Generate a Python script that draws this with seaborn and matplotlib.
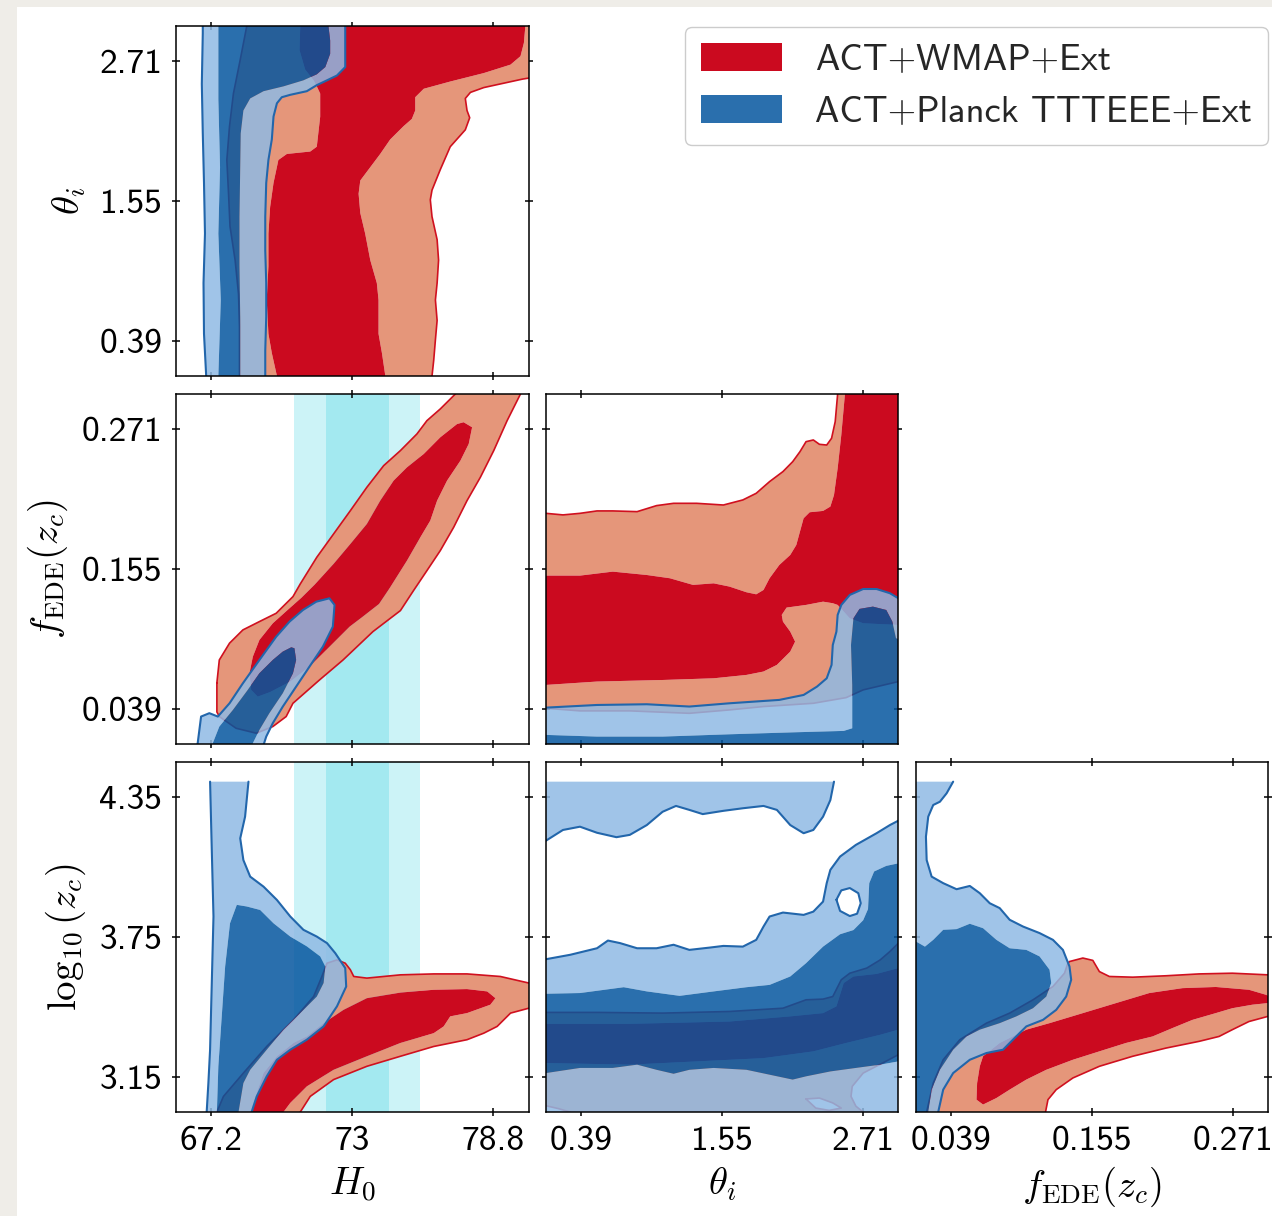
import numpy as np
import matplotlib
matplotlib.use("Agg")
import matplotlib.pyplot as plt
from matplotlib.path import Path
from matplotlib.patches import PathPatch, Patch, Rectangle
import seaborn as sns

# ---------------------------------------------------------------------------
# Parameters, ranges and ticks
# ---------------------------------------------------------------------------
PARAM_LABELS = [r"$H_0$", r"$\theta_i$", r"$f_{\rm EDE}(z_c)$", r"$\log_{10}(z_c)$"]
PARAM_LIMITS = [(65.75, 80.25), (0.10, 3.00), (0.010, 0.300), (3.00, 4.50)]
PARAM_TICKS = [[67.2, 73.0, 78.8], [0.39, 1.55, 2.71], [0.039, 0.155, 0.271], [3.15, 3.75, 4.35]]
PARAM_TICKLABELS = [["67.2", "73", "78.8"], ["0.39", "1.55", "2.71"],
                    ["0.039", "0.155", "0.271"], ["3.15", "3.75", "4.35"]]

SERIES_LABELS = ["ACT+WMAP+Ext", "ACT+Planck TTTEEE+Ext"]

# Local H0 measurement shown as 1 and 2 sigma bands
H0_LOCAL = 73.2
H0_LOCAL_ERR = 1.3

# ---------------------------------------------------------------------------
# 68% / 95% credible-region outlines (x, y) for each parameter pair
# ---------------------------------------------------------------------------
# H0 - theta_i
WMAP_95_H0_TH = [(68.66, 3.10), (80.60, 3.10), (80.60, 2.58), (80.00, 2.56), (79.09, 2.52), (78.41, 2.49),
                 (77.86, 2.45), (77.65, 2.40), (77.72, 2.30), (77.83, 2.24), (77.65, 2.14), (77.03, 2.00),
                 (76.62, 1.81), (76.28, 1.64), (76.21, 1.56), (76.28, 1.42), (76.49, 1.23), (76.55, 1.06),
                 (76.49, 0.87), (76.42, 0.73), (76.49, 0.56), (76.42, 0.40), (76.35, 0.23), (76.28, 0.10),
                 (76.25, 0.00), (68.36, 0.00), (68.36, 0.10), (68.36, 0.51), (68.32, 0.78), (68.18, 1.06),
                 (67.97, 1.34), (67.91, 1.61), (67.84, 1.89), (67.95, 2.17), (68.11, 2.44), (68.39, 2.72),
                 (68.66, 3.00)]
WMAP_68_H0_TH = [(70.86, 3.10), (80.15, 3.10), (80.12, 3.00), (80.06, 2.86), (79.92, 2.75), (79.51, 2.68),
                 (78.41, 2.61), (77.03, 2.54), (75.94, 2.48), (75.59, 2.41), (75.59, 2.30), (75.45, 2.23),
                 (75.11, 2.17), (74.56, 2.06), (74.15, 1.94), (73.74, 1.83), (73.33, 1.72), (73.26, 1.61),
                 (73.33, 1.45), (73.53, 1.28), (73.74, 1.06), (74.01, 0.87), (74.08, 0.73), (74.08, 0.45),
                 (74.22, 0.29), (74.36, 0.10), (74.38, 0.00), (69.92, 0.00), (69.90, 0.10), (69.69, 0.29),
                 (69.55, 0.45), (69.48, 0.73), (69.55, 1.01), (69.55, 1.28), (69.62, 1.50), (69.76, 1.70),
                 (69.96, 1.89), (70.31, 1.94), (71.27, 1.96), (71.54, 2.00), (71.68, 2.25), (71.68, 2.44),
                 (71.54, 2.50), (71.41, 2.55), (71.06, 2.64), (70.83, 2.80), (70.86, 3.00)]
PLANCK_95_H0_TH = [(66.85, 3.10), (72.71, 3.10), (72.71, 3.00), (72.71, 2.66), (72.37, 2.59), (71.96, 2.55),
                   (71.54, 2.51), (71.13, 2.46), (70.45, 2.43), (70.10, 2.41), (69.90, 2.36), (69.76, 2.25),
                   (69.69, 2.06), (69.55, 1.89), (69.46, 1.70), (69.42, 1.42), (69.42, 1.14), (69.46, 0.87),
                   (69.46, 0.59), (69.42, 0.31), (69.42, 0.10), (69.42, 0.00), (66.99, 0.00), (66.99, 0.10),
                   (66.90, 0.45), (66.88, 0.87), (66.94, 1.28), (66.90, 1.70), (66.85, 2.11), (66.81, 2.52),
                   (66.85, 2.94), (66.85, 3.00)]
PLANCK_68_H0_TH = [(67.49, 3.05), (72.02, 3.05), (72.02, 3.00), (72.09, 2.88), (72.09, 2.77), (71.89, 2.66),
                   (71.54, 2.60), (70.99, 2.55), (70.17, 2.50), (69.35, 2.46), (68.80, 2.40), (68.52, 2.30),
                   (68.41, 2.11), (68.39, 1.83), (68.36, 1.42), (68.36, 1.01), (68.39, 0.59), (68.39, 0.10),
                   (68.39, 0.05), (67.49, 0.05), (67.49, 0.10), (67.59, 0.73), (67.49, 1.28), (67.56, 1.83),
                   (67.49, 2.39), (67.49, 3.00)]

# H0 - f_EDE
WMAP_95_H0_F = [(67.43, 0.0606), (67.53, 0.0796), (67.95, 0.0935), (68.50, 0.1045), (69.18, 0.1114),
                (69.87, 0.1183), (70.56, 0.1321), (70.86, 0.1426), (71.54, 0.1647), (72.23, 0.1840),
                (72.92, 0.2033), (73.60, 0.2227), (74.29, 0.2406), (74.98, 0.2531), (75.66, 0.2669),
                (76.07, 0.2779), (76.62, 0.2876), (77.24, 0.3000), (77.35, 0.3100), (79.98, 0.3100),
                (79.92, 0.3000), (79.37, 0.2779), (78.82, 0.2531), (78.27, 0.2310), (77.72, 0.2116),
                (77.17, 0.1895), (76.62, 0.1702), (76.07, 0.1536), (75.52, 0.1371), (74.98, 0.1205),
                (73.85, 0.1031), (72.62, 0.0796), (71.65, 0.0630), (70.56, 0.0437), (70.28, 0.0327),
                (69.73, 0.0244), (69.05, 0.0189), (68.22, 0.0230), (67.53, 0.0327), (67.43, 0.0365),
                (67.43, 0.0606)]
WMAP_68_H0_F = [(77.58, 0.2766), (77.93, 0.2724), (77.79, 0.2586), (77.45, 0.2448), (76.90, 0.2282),
                (76.49, 0.2116), (76.21, 0.1951), (75.80, 0.1812), (75.25, 0.1619), (74.56, 0.1398),
                (74.10, 0.1260), (73.40, 0.1150), (72.89, 0.1072), (71.93, 0.0879), (71.24, 0.0741),
                (70.45, 0.0617), (69.62, 0.0530), (69.11, 0.0492), (68.84, 0.0548), (68.77, 0.0686),
                (68.91, 0.0824), (69.18, 0.0962), (69.73, 0.1100), (70.42, 0.1225), (70.90, 0.1310),
                (71.45, 0.1420), (72.23, 0.1592), (72.92, 0.1757), (73.60, 0.1923), (74.15, 0.2116),
                (74.70, 0.2282), (75.25, 0.2392), (75.94, 0.2503), (76.62, 0.2641), (77.31, 0.2751)]
PLANCK_95_H0_F = [(66.53, 0.0000), (66.64, 0.0106), (66.78, 0.0327), (67.12, 0.0355), (67.47, 0.0327),
                  (67.95, 0.0437), (68.50, 0.0603), (69.18, 0.0796), (69.87, 0.0989), (70.42, 0.1114),
                  (70.97, 0.1210), (71.52, 0.1279), (72.06, 0.1307), (72.27, 0.1252), (72.20, 0.1072),
                  (71.79, 0.0906), (71.24, 0.0741), (70.69, 0.0575), (70.14, 0.0409), (69.73, 0.0272),
                  (69.46, 0.0161), (69.35, 0.0092), (69.30, 0.0000)]
PLANCK_68_H0_F = [(67.20, 0.0040), (67.26, 0.0106), (67.53, 0.0244), (68.09, 0.0382), (68.70, 0.0548),
                  (69.18, 0.0686), (69.73, 0.0796), (70.14, 0.0865), (70.49, 0.0901), (70.62, 0.0893),
                  (70.69, 0.0796), (70.56, 0.0686), (70.14, 0.0520), (69.59, 0.0355), (69.18, 0.0216),
                  (68.91, 0.0106), (68.88, 0.0040)]

# theta_i - f_EDE
WMAP_95_TH_F = [(0.00, 0.2011), (0.10, 0.2011), (0.24, 0.1998), (0.38, 0.2011), (0.52, 0.2031), (0.65, 0.2031),
                (0.85, 0.2025), (1.01, 0.2075), (1.15, 0.2094), (1.34, 0.2094), (1.56, 0.2080), (1.72, 0.2122),
                (1.83, 0.2177), (1.94, 0.2274), (2.05, 0.2357), (2.13, 0.2439), (2.19, 0.2522), (2.24, 0.2605),
                (2.30, 0.2619), (2.35, 0.2583), (2.41, 0.2577), (2.45, 0.2633), (2.48, 0.2771), (2.50, 0.3000),
                (2.51, 0.3100), (3.10, 0.3100), (3.10, 0.0590), (3.00, 0.0617), (2.71, 0.0548), (2.57, 0.0484),
                (2.30, 0.0437), (1.89, 0.0410), (1.61, 0.0382), (1.28, 0.0354), (0.79, 0.0374), (0.38, 0.0374),
                (0.10, 0.0396), (0.00, 0.0396)]
WMAP_68_TH_F = [(0.00, 0.1495), (0.10, 0.1495), (0.38, 0.1495), (0.65, 0.1528), (0.93, 0.1500), (1.12, 0.1473),
                (1.31, 0.1418), (1.48, 0.1431), (1.61, 0.1404), (1.75, 0.1357), (1.83, 0.1340), (1.89, 0.1376),
                (1.94, 0.1473), (2.02, 0.1583), (2.11, 0.1666), (2.16, 0.1749), (2.19, 0.1860), (2.22, 0.1970),
                (2.27, 0.2020), (2.38, 0.2031), (2.44, 0.2067), (2.47, 0.2163), (2.50, 0.2384), (2.53, 0.2660),
                (2.56, 0.3000), (2.57, 0.3100), (3.10, 0.3100), (3.10, 0.1086), (3.00, 0.1086), (2.71, 0.1100),
                (2.60, 0.1141), (2.50, 0.1252), (2.46, 0.1266), (2.38, 0.1279), (2.24, 0.1252), (2.08, 0.1230),
                (2.04, 0.1169), (2.05, 0.1114), (2.11, 0.1031), (2.15, 0.0948), (2.11, 0.0865), (2.00, 0.0755),
                (1.89, 0.0700), (1.75, 0.0672), (1.48, 0.0644), (1.06, 0.0630), (0.52, 0.0617), (0.10, 0.0589),
                (0.00, 0.0589)]
PLANCK_95_TH_F = [(0.00, 0.0401), (0.10, 0.0401), (0.52, 0.0423), (0.93, 0.0429), (1.28, 0.0410), (1.61, 0.0437),
                  (2.02, 0.0465), (2.22, 0.0506), (2.33, 0.0575), (2.41, 0.0644), (2.45, 0.0755), (2.46, 0.0920),
                  (2.49, 0.1031), (2.50, 0.1169), (2.53, 0.1252), (2.60, 0.1335), (2.71, 0.1384), (2.82, 0.1384),
                  (2.93, 0.1349), (3.00, 0.1307), (3.10, 0.1250), (3.10, 0.0000), (0.00, 0.0000)]
PLANCK_68_TH_F = [(0.05, 0.0175), (0.10, 0.0175), (0.52, 0.0161), (1.06, 0.0161), (1.61, 0.0180), (2.16, 0.0197),
                  (2.55, 0.0208), (2.62, 0.0230), (2.62, 0.0589), (2.61, 0.0920), (2.63, 0.1141), (2.68, 0.1219),
                  (2.79, 0.1238), (2.90, 0.1210), (2.95, 0.1114), (2.98, 0.0976), (3.05, 0.0950), (3.05, 0.0050),
                  (0.05, 0.0050)]

# H0 - log10(z_c)
WMAP_95_H0_Z = [(67.40, 2.900), (67.43, 3.000), (67.70, 3.067), (68.52, 3.167), (69.48, 3.281), (70.58, 3.395),
                (71.41, 3.495), (71.75, 3.581), (71.96, 3.638), (72.37, 3.652), (72.71, 3.638), (72.92, 3.610),
                (73.06, 3.581), (73.60, 3.574), (74.98, 3.588), (76.35, 3.592), (77.72, 3.592), (79.09, 3.581),
                (80.26, 3.553), (80.50, 3.550), (80.50, 3.440), (80.26, 3.445), (79.51, 3.424), (78.96, 3.367),
                (78.41, 3.338), (77.72, 3.310), (76.35, 3.281), (74.98, 3.239), (73.60, 3.196), (72.23, 3.139),
                (71.27, 3.067), (70.86, 3.000), (70.82, 2.900)]
WMAP_68_H0_Z = [(68.78, 2.950), (68.80, 3.000), (69.35, 3.167), (69.90, 3.239), (70.58, 3.296), (71.13, 3.324),
                (71.82, 3.381), (72.64, 3.438), (73.60, 3.488), (74.98, 3.512), (76.35, 3.524), (77.72, 3.527),
                (78.55, 3.517), (78.89, 3.488), (78.68, 3.460), (77.72, 3.424), (77.03, 3.410), (76.76, 3.367),
                (76.35, 3.338), (74.98, 3.296), (73.60, 3.239), (72.23, 3.181), (71.13, 3.110), (70.45, 3.039),
                (70.17, 3.000), (70.15, 2.950)]
PLANCK_95_H0_Z = [(67.15, 4.416), (67.22, 4.123), (67.29, 3.838), (67.22, 3.553), (67.15, 3.267), (67.08, 3.124),
                  (67.01, 3.000), (67.00, 2.900), (68.84, 2.900), (68.86, 3.000), (69.07, 3.067), (69.48, 3.153),
                  (69.90, 3.224), (70.45, 3.267), (71.13, 3.310), (71.82, 3.367), (72.37, 3.453), (72.75, 3.538),
                  (72.71, 3.617), (72.30, 3.681), (71.96, 3.724), (71.54, 3.752), (70.99, 3.781), (70.45, 3.838),
                  (69.90, 3.909), (69.35, 3.966), (68.80, 4.009), (68.52, 4.080), (68.39, 4.173), (68.59, 4.266),
                  (68.73, 4.416)]
PLANCK_68_H0_Z = [(68.25, 3.888), (67.97, 3.809), (67.77, 3.624), (67.63, 3.410), (67.49, 3.196), (67.43, 3.000),
                  (67.43, 2.950), (68.32, 2.950), (68.32, 3.000), (68.52, 3.124), (68.80, 3.181), (69.48, 3.267),
                  (70.17, 3.353), (70.86, 3.424), (71.54, 3.495), (71.82, 3.553), (71.89, 3.624), (71.68, 3.667),
                  (71.13, 3.710), (70.45, 3.752), (69.76, 3.809), (69.21, 3.866), (68.66, 3.881)]

# theta_i - log10(z_c)
WMAP_95_TH_Z = [(0.00, 3.427), (0.10, 3.427), (0.52, 3.427), (1.06, 3.424), (1.61, 3.431), (2.05, 3.445),
                (2.24, 3.481), (2.38, 3.484), (2.46, 3.495), (2.53, 3.567), (2.60, 3.595), (2.74, 3.617),
                (2.85, 3.652), (2.93, 3.688), (3.00, 3.724), (3.10, 3.730), (3.10, 3.250), (3.00, 3.246),
                (2.87, 3.210), (2.71, 3.167), (2.62, 3.110), (2.61, 3.067), (2.65, 3.025), (2.71, 3.000),
                (2.72, 2.900), (0.32, 2.900), (0.30, 3.000), (0.20, 3.015), (0.10, 3.027), (0.00, 3.030)]
WMAP_95_TH_Z_GAP = [(2.24, 3.056), (2.35, 3.060), (2.46, 3.039), (2.53, 3.017), (2.43, 3.007), (2.32, 3.017),
                    (2.24, 3.056)]
WMAP_68_TH_Z = [(0.00, 3.378), (0.10, 3.378), (0.79, 3.378), (1.61, 3.388), (2.11, 3.410), (2.38, 3.424),
                (2.49, 3.453), (2.55, 3.553), (2.63, 3.581), (2.82, 3.592), (3.00, 3.617), (3.10, 3.620),
                (3.10, 3.350), (3.00, 3.353), (2.85, 3.331), (2.57, 3.296), (2.30, 3.260), (1.89, 3.231),
                (1.34, 3.217), (0.79, 3.203), (0.10, 3.210), (0.00, 3.210)]
PLANCK_95_TH_Z_HIGH = [(2.47, 4.416), (2.44, 4.337), (2.38, 4.266), (2.30, 4.209), (2.22, 4.195), (2.11, 4.230),
                       (2.00, 4.295), (1.89, 4.312), (1.72, 4.302), (1.56, 4.291), (1.39, 4.277), (1.28, 4.295),
                       (1.17, 4.312), (1.06, 4.287), (0.93, 4.230), (0.79, 4.188), (0.68, 4.178), (0.52, 4.197),
                       (0.38, 4.223), (0.24, 4.209), (0.10, 4.163), (0.00, 4.150), (0.00, 4.416)]
PLANCK_95_TH_Z = [(0.00, 2.900), (0.00, 3.655), (0.10, 3.655), (0.30, 3.674), (0.52, 3.702), (0.61, 3.735),
                  (0.71, 3.724), (0.85, 3.702), (1.01, 3.702), (1.15, 3.717), (1.28, 3.695), (1.45, 3.705),
                  (1.56, 3.712), (1.72, 3.709), (1.83, 3.738), (1.89, 3.795), (1.94, 3.838), (2.05, 3.855),
                  (2.22, 3.845), (2.30, 3.859), (2.38, 3.902), (2.41, 3.981), (2.44, 4.038), (2.52, 4.095),
                  (2.65, 4.145), (2.82, 4.195), (2.93, 4.230), (3.00, 4.249), (3.15, 4.260), (3.15, 2.900)]
PLANCK_95_TH_Z_GAP = [(2.49, 3.910), (2.53, 3.950), (2.60, 3.960), (2.67, 3.938), (2.69, 3.895), (2.66, 3.850),
                      (2.60, 3.840), (2.52, 3.862), (2.49, 3.910)]
PLANCK_68_TH_Z = [(0.05, 3.507), (0.10, 3.507), (0.38, 3.510), (0.74, 3.535), (0.93, 3.517), (1.20, 3.498),
                  (1.48, 3.517), (1.75, 3.535), (1.94, 3.545), (2.11, 3.581), (2.24, 3.638), (2.38, 3.709),
                  (2.52, 3.762), (2.63, 3.780), (2.71, 3.822), (2.75, 3.870), (2.76, 3.981), (2.80, 4.031),
                  (2.90, 4.055), (3.00, 4.066), (3.10, 4.070), (3.10, 3.220), (3.00, 3.217), (2.85, 3.203),
                  (2.65, 3.189), (2.44, 3.174), (2.24, 3.153), (2.13, 3.139), (1.94, 3.160), (1.75, 3.181),
                  (1.48, 3.189), (1.28, 3.181), (1.15, 3.164), (1.01, 3.181), (0.85, 3.203), (0.65, 3.189),
                  (0.38, 3.189), (0.10, 3.167), (0.05, 3.167)]

# f_EDE - log10(z_c)
WMAP_95_F_Z = [(0.0180, 2.900), (0.0188, 3.000), (0.0242, 3.124), (0.0324, 3.224), (0.0461, 3.310),
               (0.0680, 3.381), (0.0871, 3.424), (0.1063, 3.481), (0.1227, 3.538), (0.1322, 3.595),
               (0.1350, 3.638), (0.1363, 3.645), (0.1473, 3.660), (0.1555, 3.650), (0.1609, 3.602),
               (0.1691, 3.581), (0.1883, 3.578), (0.2156, 3.584), (0.2430, 3.592), (0.2703, 3.595),
               (0.2996, 3.588), (0.3050, 3.588), (0.3050, 3.410), (0.2996, 3.410), (0.2840, 3.388),
               (0.2703, 3.353), (0.2594, 3.324), (0.2430, 3.303), (0.2156, 3.274), (0.1883, 3.239),
               (0.1609, 3.196), (0.1391, 3.146), (0.1254, 3.096), (0.1186, 3.053), (0.1166, 3.000),
               (0.1160, 2.900)]
WMAP_68_F_Z = [(0.0652, 3.239), (0.0789, 3.296), (0.1008, 3.353), (0.1199, 3.381), (0.1473, 3.424),
               (0.1746, 3.467), (0.2020, 3.510), (0.2293, 3.531), (0.2567, 3.536), (0.2840, 3.524),
               (0.2977, 3.503), (0.3050, 3.488), (0.3050, 3.467), (0.2996, 3.467), (0.2868, 3.460),
               (0.2703, 3.445), (0.2567, 3.424), (0.2375, 3.395), (0.2211, 3.360), (0.2047, 3.324),
               (0.1828, 3.296), (0.1609, 3.260), (0.1391, 3.224), (0.1172, 3.181), (0.1008, 3.139),
               (0.0871, 3.096), (0.0762, 3.060), (0.0652, 3.032), (0.0598, 3.053), (0.0603, 3.124),
               (0.0625, 3.196)]
PLANCK_95_F_Z = [(0.0406, 4.416), (0.0352, 4.366), (0.0297, 4.330), (0.0242, 4.316), (0.0201, 4.266),
                 (0.0182, 4.180), (0.0188, 4.080), (0.0229, 4.009), (0.0324, 3.981), (0.0434, 3.955),
                 (0.0543, 3.969), (0.0625, 3.938), (0.0707, 3.895), (0.0789, 3.874), (0.0871, 3.824),
                 (0.0981, 3.795), (0.1117, 3.767), (0.1227, 3.738), (0.1309, 3.695), (0.1363, 3.624),
                 (0.1377, 3.567), (0.1336, 3.495), (0.1254, 3.438), (0.1145, 3.395), (0.1008, 3.367),
                 (0.0898, 3.310), (0.0816, 3.267), (0.0680, 3.253), (0.0543, 3.224), (0.0406, 3.167),
                 (0.0324, 3.096), (0.0283, 3.000), (0.0280, 2.900), (0.0000, 2.900), (0.0000, 4.416)]
PLANCK_68_F_Z = [(0.0050, 2.950), (0.0050, 3.731), (0.0100, 3.731), (0.0174, 3.709), (0.0242, 3.738),
                 (0.0324, 3.781), (0.0434, 3.784), (0.0543, 3.807), (0.0652, 3.788), (0.0762, 3.738),
                 (0.0871, 3.702), (0.1008, 3.695), (0.1117, 3.667), (0.1199, 3.610), (0.1213, 3.553),
                 (0.1172, 3.495), (0.1063, 3.445), (0.0926, 3.410), (0.0789, 3.381), (0.0625, 3.353),
                 (0.0516, 3.324), (0.0406, 3.267), (0.0297, 3.181), (0.0229, 3.096), (0.0201, 3.000),
                 (0.0200, 2.950)]

# (row, col) -> regions; row/col index into the parameter list
PANELS = {
    (1, 0): dict(wmap=([WMAP_95_H0_TH], [], [WMAP_68_H0_TH]),
                 planck=([PLANCK_95_H0_TH], [], [PLANCK_68_H0_TH])),
    (2, 0): dict(wmap=([WMAP_95_H0_F], [], [WMAP_68_H0_F]),
                 planck=([PLANCK_95_H0_F], [], [PLANCK_68_H0_F])),
    (2, 1): dict(wmap=([WMAP_95_TH_F], [], [WMAP_68_TH_F]),
                 planck=([PLANCK_95_TH_F], [], [PLANCK_68_TH_F])),
    (3, 0): dict(wmap=([WMAP_95_H0_Z], [], [WMAP_68_H0_Z]),
                 planck=([PLANCK_95_H0_Z], [], [PLANCK_68_H0_Z])),
    (3, 1): dict(wmap=([WMAP_95_TH_Z], [WMAP_95_TH_Z_GAP], [WMAP_68_TH_Z]),
                 planck=([PLANCK_95_TH_Z_HIGH, PLANCK_95_TH_Z], [PLANCK_95_TH_Z_GAP], [PLANCK_68_TH_Z])),
    (3, 2): dict(wmap=([WMAP_95_F_Z], [], [WMAP_68_F_Z]),
                 planck=([PLANCK_95_F_Z], [], [PLANCK_68_F_Z])),
}

# ---------------------------------------------------------------------------
# Style
# ---------------------------------------------------------------------------
sns.set_theme(style="ticks")
plt.rcParams.update({
    "font.family": ["cmss10", "DejaVu Sans"],
    "mathtext.fontset": "cm",
    "axes.formatter.use_mathtext": True,
    "axes.unicode_minus": False,
    "axes.linewidth": 1.1,
    "axes.edgecolor": "black",
})

RED = dict(light="#e5967a", dark="#cb0a1f", line="#d0101f", alpha=1.0, lw=1.2)
BLUE = dict(light="#8fbae4", dark="#04569f", line="#2266ab", alpha=0.85, lw=1.5)
LEGEND_COLORS = ["#cb0a1f", "#2a6fad"]
TICK_FS = 25.5
LABEL_FS = 28


def _ring(points, ccw):
    a = np.asarray(points, float)
    x, y = a[:, 0], a[:, 1]
    area = 0.5 * np.sum(x * np.roll(y, -1) - np.roll(x, -1) * y)
    if (area > 0) != ccw:
        a = a[::-1]
    return a


def _compound(exteriors, holes):
    verts, codes = [], []
    for pts, ccw in [(p, True) for p in exteriors] + [(h, False) for h in holes]:
        a = _ring(pts, ccw)
        verts.extend(a.tolist())
        verts.append(a[0].tolist())
        codes.extend([Path.MOVETO] + [Path.LINETO] * (len(a) - 1) + [Path.CLOSEPOLY])
    return Path(verts, codes)


def draw_regions(ax, regions, style, z):
    outer, gaps, inner = regions
    # 95% annulus (outer minus inner), then the 68% core on top
    ax.add_patch(PathPatch(_compound(outer, gaps + inner), facecolor=style["light"],
                           edgecolor="none", alpha=style["alpha"], zorder=z))
    ax.add_patch(PathPatch(_compound(inner, []), facecolor=style["dark"],
                           edgecolor="none", alpha=style["alpha"], zorder=z))
    for pts in outer + gaps:
        a = np.asarray(pts, float)
        sns.lineplot(x=a[:, 0], y=a[:, 1], sort=False, estimator=None, ax=ax,
                     color=style["line"], lw=style["lw"], zorder=z + 0.5, legend=False)


# ---------------------------------------------------------------------------
# Figure
# ---------------------------------------------------------------------------
fig = plt.figure(figsize=(12.72, 12.16), dpi=100, facecolor="#efede8")
fig.patches.append(Rectangle((0.0134, 0.0), 1.0, 0.9942, transform=fig.transFigure,
                             facecolor="white", edgecolor="none", zorder=-10))

col_left = [0.1384, 0.4292, 0.7201]
row_bottom = [0.6908, 0.3882, 0.0855]
width, height = 0.2771, 0.2878

for (r, c), sets in PANELS.items():
    ax = fig.add_axes([col_left[c], row_bottom[r - 1], width, height])
    ax.set_facecolor("white")

    if c == 0 and r >= 2:
        ax.axvspan(H0_LOCAL - 2 * H0_LOCAL_ERR, H0_LOCAL + 2 * H0_LOCAL_ERR,
                   color="#ccf3f7", lw=0, zorder=0.3)
        ax.axvspan(H0_LOCAL - H0_LOCAL_ERR, H0_LOCAL + H0_LOCAL_ERR,
                   color="#a3e9f0", lw=0, zorder=0.4)

    draw_regions(ax, sets["wmap"], RED, 1.0)
    draw_regions(ax, sets["planck"], BLUE, 2.0)

    ax.set_xlim(*PARAM_LIMITS[c])
    ax.set_ylim(*PARAM_LIMITS[r])
    ax.set_xticks(PARAM_TICKS[c])
    ax.set_yticks(PARAM_TICKS[r])
    ax.tick_params(direction="inout", length=5.8, width=1.1, color="black",
                   top=True, right=True, bottom=True, left=True,
                   labelsize=TICK_FS, pad=7.0, labelcolor="black")
    if r == 3:
        ax.set_xticklabels(PARAM_TICKLABELS[c])
        ax.set_xlabel(PARAM_LABELS[c], fontsize=LABEL_FS, labelpad=6, color="black")
    else:
        ax.set_xticklabels([])
        ax.set_xlabel("")
    if c == 0:
        ax.set_yticklabels(PARAM_TICKLABELS[r])
        ax.set_ylabel(PARAM_LABELS[r], fontsize=LABEL_FS, labelpad=8, color="black")
    else:
        ax.set_yticklabels([])
        ax.set_ylabel("")
    for s in ax.spines.values():
        s.set_visible(True)
        s.set_color("black")
        s.set_linewidth(1.1)
        s.set_zorder(5)

handles = [Patch(facecolor=col, edgecolor="none") for col in LEGEND_COLORS]
fig.legend(handles, SERIES_LABELS, loc="upper right", bbox_to_anchor=(0.9969, 0.9778),
           bbox_transform=fig.transFigure, fontsize=26.4, frameon=True, fancybox=True,
           framealpha=1.0, edgecolor="#cccccc", handlelength=2.2, handleheight=0.78,
           handletextpad=0.9, labelspacing=0.5, borderpad=0.45, borderaxespad=0.0)

fig.savefig("out.png", dpi=100, facecolor=fig.get_facecolor())
